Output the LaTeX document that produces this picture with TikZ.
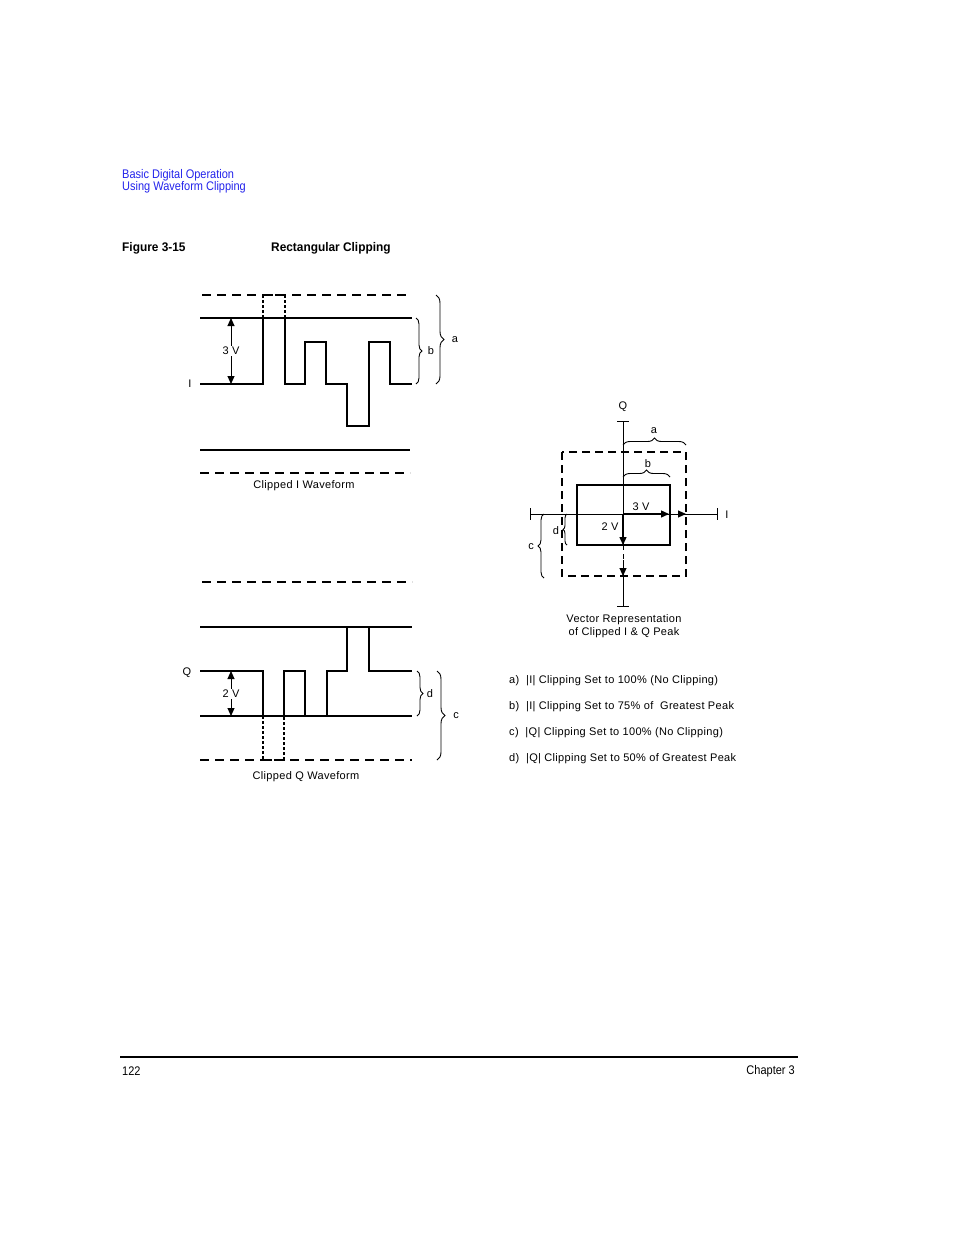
\documentclass[tikz,border=0pt]{standalone}
\usepackage{fontspec}
\setmainfont[LetterSpace=3]{Liberation Sans}
\newfontfamily\cond[FakeStretch=0.88]{Liberation Sans}
\newfontfamily\condb[FakeStretch=0.95]{Liberation Sans Bold}
\usetikzlibrary{decorations.pathreplacing,arrows.meta}
\definecolor{hdrblue}{RGB}{35,35,235}
\begin{document}
\begin{tikzpicture}[x=1pt,y=-1pt,
  wave/.style={line width=2.2pt, line join=miter},
  lvl/.style={line width=1.9pt},
  dashline/.style={line width=1.4pt, dash pattern=on 9pt off 6pt},
  dotwave/.style={line width=2pt, dash pattern=on 3pt off 2pt},
  lbl/.style={font=\fontsize{11}{13}\selectfont, inner sep=0pt},
  hdr/.style={font=\cond\fontsize{12.5}{14}\selectfont, inner sep=0pt, anchor=west},
  hdrb/.style={font=\condb\fontsize{12.5}{14}\selectfont, inner sep=0pt, anchor=west},
  brc/.style={decorate, decoration={brace, amplitude=6pt}, line width=0.9pt},
  varrow/.style={line width=1pt, {Triangle[length=8pt,width=7pt]}-{Triangle[length=8pt,width=7pt]}},
  tip/.style={-{Triangle[length=8pt,width=7pt]}},
  axis/.style={line width=1pt}
]
\useasboundingbox (0,0) rectangle (954,1235);

% ---------- header ----------
\node[hdr, text=hdrblue] (h1) at (122,175.5) {Basic Digital Operation};
\node[hdr, text=hdrblue] (h2) at (122,187.5) {Using Waveform Clipping};
\node[hdrb] (fig) at (122,248.5) {Figure 3-15};
\node[hdrb] (ttl) at (271,248.5) {Rectangular Clipping};

% ---------- I waveform ----------
\draw[dashline] (202,295) -- (410,295);
\draw[lvl] (200,318) -- (412,318);
\draw[wave] (200,384) -- (263,384) -- (263,318);
\draw[dotwave] (263,318) -- (263,295) -- (285,295) -- (285,318);
\draw[wave] (285,318) -- (285,384) -- (305,384) -- (305,342) -- (326,342) -- (326,384)
  -- (347,384) -- (347,426) -- (369,426) -- (369,342) -- (390,342) -- (390,384) -- (412,384);
\draw[lvl] (200,450) -- (410,450);
\draw[dashline] (200,473) -- (410,473);
\node[lbl] (ilab) at (190,384) {I};
\coordinate (i3a) at (231,318);
\coordinate (i3b) at (231,384);
\draw[varrow] (i3a) -- (i3b);
\node[lbl, fill=white, inner sep=1pt] (i3v) at (231,351) {3 V};
\draw[brc] (416,318) -- (416,384);
\node[lbl] (ib) at (431,351) {b};
\draw[brc, decoration={amplitude=8pt}] (436,295) -- (436,384);
\node[lbl] (ia) at (455,340) {a};
\node[lbl] (icap) at (304,486) {Clipped I Waveform};

% ---------- Q waveform ----------
\draw[dashline] (202,582) -- (412,582);
\draw[lvl] (200,627) -- (412,627);
\draw[wave] (200,671) -- (263,671) -- (263,716) -- (284,716) -- (284,671) -- (305,671)
  -- (305,716) -- (327,716) -- (327,671) -- (347,671) -- (347,627) -- (369,627) -- (369,671) -- (412,671);
\draw[lvl] (200,716) -- (412,716);
\draw[dotwave] (263,716) -- (263,760) -- (284,760) -- (284,716);
\draw[dashline] (200,760) -- (412,760);
\node[lbl] (qlab) at (187,673) {Q};
\coordinate (q2a) at (231,671);
\coordinate (q2b) at (231,716);
\draw[varrow] (q2a) -- (q2b);
\node[lbl, fill=white, inner sep=1pt] (q2v) at (231,694) {2 V};
\draw[brc] (417,671) -- (417,716);
\node[lbl] (qd) at (430,694) {d};
\draw[brc, decoration={amplitude=8pt}] (437,671) -- (437,760);
\node[lbl] (qc) at (456,716) {c};
\node[lbl] (qcap) at (306,777) {Clipped Q Waveform};

% ---------- vector diagram ----------
\coordinate (O) at (623,514);
\coordinate (Qt) at (623,421);
\coordinate (Qb) at (623,606);
\coordinate (Il) at (530,514);
\coordinate (Ir) at (717,514);
\draw[line width=1.4pt, dash pattern=on 8pt off 5pt] (562,452) rectangle (686,576);
\draw[line width=2.5pt] (577,485) rectangle (670,545);
\draw[axis] (Il) -- (Ir);
\draw[axis] (Il) ++(0,-6) -- ++(0,12);
\draw[axis] (Ir) ++(0,-6) -- ++(0,12);
\draw[axis] (Qt) -- (623,545);
\draw[axis] (Qt) ++(-6,0) -- ++(12,0);
\draw[axis, dash pattern=on 5pt off 4pt] (623,545) -- (623,576);
\draw[axis] (623,576) -- (Qb);
\draw[axis] (Qb) ++(-6,0) -- ++(12,0);
\draw[line width=1.4pt, tip] (O) -- (669,514);
\draw[axis, tip] (671,514) -- (686,514);
\draw[line width=1.4pt, tip] (O) -- (623,545);
\draw[axis, tip] (623,560) -- (623,576);
\node[lbl] (vq) at (623,407) {Q};
\node[lbl] (vi) at (727,515) {I};
\node[lbl] (v3) at (641,507) {3 V};
\node[lbl] (v2) at (610,527) {2 V};
\draw[brc, decoration={amplitude=7pt}] (623,445) -- (686,445);
\node[lbl] (va) at (654,431) {a};
\draw[brc, decoration={amplitude=7pt}] (623,477) -- (670,477);
\node[lbl] (vb) at (648,464) {b};
\draw[brc, decoration={amplitude=4pt}] (567,545) -- (567,514);
\node[lbl] (vd) at (556,531) {d};
\draw[brc, decoration={amplitude=6pt}] (544,578) -- (544,514);
\node[lbl] (vc) at (531,547) {c};
\node[lbl, align=center] (vcap) at (624,626) {Vector Representation\\of Clipped I \& Q Peak};

% ---------- legend ----------
\node[lbl, anchor=west] (la) at (509,681) {a)\ \ |I| Clipping Set to 100\% (No Clipping)};
\node[lbl, anchor=west] (lb) at (509,707) {b)\ \ |I| Clipping Set to 75\% of\ \ Greatest Peak};
\node[lbl, anchor=west] (lc) at (509,733) {c)\ \ |Q| Clipping Set to 100\% (No Clipping)};
\node[lbl, anchor=west] (ld) at (509,759) {d)\ \ |Q| Clipping Set to 50\% of Greatest Peak};

% ---------- footer ----------
\draw[line width=2pt] (120,1057) -- (798,1057);
\node[hdr] (pg) at (122,1071.5) {122};
\node[hdr, anchor=east] (ch) at (795,1071.5) {Chapter 3};
\end{tikzpicture}
\end{document}
